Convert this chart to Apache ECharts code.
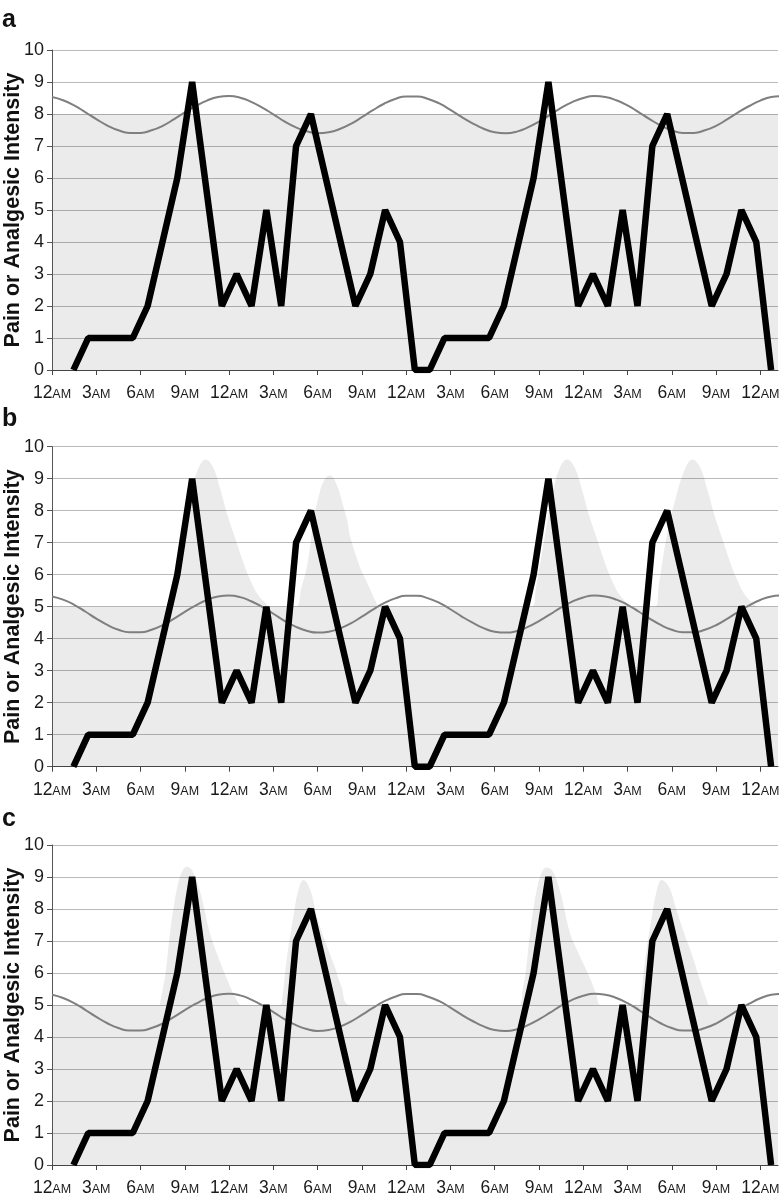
<!DOCTYPE html>
<html><head><meta charset="utf-8">
<script src="https://cdn.jsdelivr.net/npm/echarts@6/dist/echarts.min.js"></script>
<style>html,body{margin:0;padding:0;background:#fff}#c{width:780px;height:1198px}</style>
</head><body><div id="c"></div>
<script>
// ---------- data ----------
const panelLetters = ['a', 'b', 'c'];
const xTickHours = [0, 3, 6, 9, 12, 15, 18, 21, 24, 27, 30, 33, 36, 39, 42, 45, 48];
const xTickNumbers = ['12', '3', '6', '9', '12', '3', '6', '9', '12', '3', '6', '9', '12', '3', '6', '9', '12'];
const xTickSuffix = 'AM';
const yAxisTitle = 'Pain or Analgesic Intensity';

// pain ratings, one per hour
const painStartHour = 1.45;
const painStepHours = 1.006;
const painValues = [0, 1, 1, 1, 1, 2, 4, 6, 9, 5.5, 2, 3, 2, 5, 2, 7, 8, 6, 4, 2, 3, 5, 4,
                    0, 0, 1, 1, 1, 1, 2, 4, 6, 9, 5.5, 2, 3, 2, 5, 2, 7, 8, 6, 4, 2, 3, 5, 4, 0];

// analgesic level (thin grey curve), read every 0.75 h from 0 h
const analgesicStepHours = 0.75;
const analgesicA = [
  8.53, 8.43, 8.27, 8.06, 7.84, 7.64, 7.49, 7.41, 7.41, 7.49, 7.63, 7.83, 8.05, 8.25, 8.42, 8.53, 8.56,
  8.51, 8.38, 8.20, 7.99, 7.77, 7.59, 7.46, 7.40, 7.43, 7.53, 7.69, 7.90, 8.12, 8.32, 8.47, 8.55,
  8.55, 8.47, 8.33, 8.13, 7.91, 7.71, 7.54, 7.43, 7.40, 7.45, 7.58, 7.76, 7.97, 8.19, 8.37, 8.50, 8.56,
  8.53, 8.43, 8.27, 8.06, 7.84, 7.64, 7.49, 7.41, 7.41, 7.49, 7.63, 7.83, 8.05, 8.25, 8.42, 8.53, 8.56
];
const analgesicBC = [
  5.32, 5.22, 5.06, 4.85, 4.63, 4.43, 4.28, 4.20, 4.20, 4.28, 4.42, 4.62, 4.84, 5.04, 5.21, 5.32, 5.35,
  5.30, 5.17, 4.99, 4.78, 4.56, 4.38, 4.25, 4.19, 4.22, 4.32, 4.48, 4.69, 4.91, 5.11, 5.26, 5.34,
  5.34, 5.26, 5.12, 4.92, 4.70, 4.50, 4.33, 4.22, 4.19, 4.24, 4.37, 4.55, 4.76, 4.98, 5.16, 5.29, 5.35,
  5.32, 5.22, 5.06, 4.85, 4.63, 4.43, 4.28, 4.20, 4.20, 4.28, 4.42, 4.62, 4.84, 5.04, 5.21, 5.32, 5.35
];

// shaded analgesic effect
const baseLevels = [8, 5, 5];
const axisEndHour = 49.2;
const effectB = [
  [8.0, 5.0], [8.3, 5.6], [8.6, 6.4], [9.0, 7.5], [9.4, 8.5], [9.9, 9.3], [10.4, 9.6], [10.9, 9.37], [11.4, 8.68], [11.9, 7.85],
  [12.4, 7.16], [12.9, 6.47], [13.4, 5.87], [13.9, 5.41], [14.4, 5.14], [14.8, 5.0],
  [16.5, 5.0], [16.9, 5.6], [17.3, 6.3], [17.7, 7.6], [18.1, 8.5], [18.5, 9.0], [18.85, 9.1], [19.3, 8.8], [19.7, 8.2], [20.0, 7.7],
  [20.2, 7.2], [20.6, 6.6], [20.9, 6.2], [21.3, 5.8], [21.6, 5.5], [21.9, 5.2], [22.2, 5.0],
  [32.5, 5.0], [32.8, 5.6], [33.1, 6.38], [33.5, 7.48], [33.9, 8.5], [34.4, 9.32], [34.9, 9.6], [35.4, 9.37], [35.9, 8.68], [36.4, 7.85],
  [36.9, 7.16], [37.4, 6.47], [37.9, 5.87], [38.4, 5.41], [38.9, 5.14], [39.3, 5.0],
  [40.9, 5.0], [41.1, 5.6], [41.3, 6.2], [41.7, 7.3], [42.3, 8.45], [42.9, 9.3], [43.4, 9.6], [43.9, 9.37], [44.4, 8.68], [44.9, 7.85],
  [45.4, 7.16], [45.9, 6.47], [46.4, 5.87], [46.9, 5.41], [47.4, 5.14], [47.8, 5.0]
];
const effectC = [
  [7.3, 5.0], [7.5, 5.5], [7.7, 6.0], [8.0, 7.25], [8.45, 8.6], [8.8, 9.15], [9.13, 9.32], [9.5, 9.2], [10.0, 8.6], [10.7, 7.25],
  [11.1, 6.7], [11.6, 6.1], [12.1, 5.55], [12.5, 5.17], [12.8, 5.0],
  [15.45, 5.0], [15.6, 5.2], [15.9, 6.41], [16.36, 7.76], [16.7, 8.6], [17.04, 8.91], [17.5, 8.6], [17.95, 7.76], [18.5, 7.0],
  [19.07, 6.31], [19.6, 5.6], [20.2, 5.0],
  [31.7, 5.0], [31.9, 5.5], [32.1, 6.0], [32.4, 7.25], [32.85, 8.6], [33.2, 9.15], [33.5, 9.3], [33.9, 9.2], [34.4, 8.6], [35.1, 7.25],
  [35.5, 6.8], [36.0, 6.3], [36.5, 5.8], [36.9, 5.3], [37.2, 5.0],
  [39.75, 5.0], [39.9, 5.2], [40.2, 6.41], [40.65, 7.76], [41.0, 8.6], [41.3, 8.91], [41.8, 8.7], [42.3, 8.0], [42.8, 7.3],
  [43.35, 6.6], [43.9, 5.8], [44.5, 5.0]
];
const effectPeaks = [null, effectB, effectC];
const analgesicCurves = [analgesicA, analgesicBC, analgesicBC];

// ---------- chart ----------
const FONT = '"Liberation Sans", Arial, sans-serif';
const gridTops = [50, 446.7, 845];
const painData = painValues.map((v, i) => [painStartHour + i * painStepHours, v]);
const shade = '#ebebeb';

const grids = [], xAxes = [], yAxes = [], series = [], graphics = [];
panelLetters.forEach((letter, p) => {
  grids.push({ left: 52, right: 2, top: gridTops[p], height: 320, containLabel: false, outerBoundsMode: 'none' });
  xAxes.push({
    type: 'value', gridIndex: p, min: 0, max: axisEndHour, z: 3,
    axisLine: { show: true, onZero: true, lineStyle: { color: '#444', width: 1 } },
    axisTick: { show: true, length: 5, customValues: xTickHours, lineStyle: { color: '#444' } },
    splitLine: { show: false },
    axisLabel: {
      customValues: xTickHours, margin: 14, color: '#1a1a1a', fontFamily: FONT,
      formatter: (v) => {
        const i = xTickHours.indexOf(v);
        return i < 0 ? '' : '{n|' + xTickNumbers[i] + '}{s|' + xTickSuffix + '}';
      },
      rich: {
        n: { fontSize: 17.5, fontFamily: FONT, color: '#1a1a1a', verticalAlign: 'bottom' },
        s: { fontSize: 12.5, fontFamily: FONT, color: '#1a1a1a', verticalAlign: 'bottom', padding: [0, 0, 1, 0] }
      }
    }
  });
  yAxes.push({
    type: 'value', gridIndex: p, min: 0, max: 10, interval: 1, z: 3,
    name: yAxisTitle, nameLocation: 'middle', nameGap: 28, nameMoveOverlap: false,
    nameTextStyle: { fontSize: 21.5, fontWeight: 'bold', color: '#111', fontFamily: FONT },
    axisLine: { show: true, lineStyle: { color: '#555', width: 1 } },
    axisTick: { show: true, length: 5, lineStyle: { color: '#555' } },
    axisLabel: { fontSize: 18, color: '#1a1a1a', margin: 8, fontFamily: FONT },
    splitLine: { show: true, lineStyle: { color: 'rgba(0,0,0,0.27)', width: 1 } }
  });
  series.push({
    type: 'line', xAxisIndex: p, yAxisIndex: p, z: 1, silent: true, symbol: 'none',
    data: [[0, baseLevels[p]], [axisEndHour, baseLevels[p]]],
    lineStyle: { width: 0 }, areaStyle: { color: shade, opacity: 1 }
  });
  if (effectPeaks[p]) {
    series.push({
      type: 'line', xAxisIndex: p, yAxisIndex: p, z: 1, silent: true, symbol: 'none', smooth: 0.4,
      data: effectPeaks[p], lineStyle: { width: 0 }, areaStyle: { color: shade, opacity: 1 }
    });
  }
  series.push({
    type: 'line', xAxisIndex: p, yAxisIndex: p, z: 5, silent: true, symbol: 'none', smooth: 0.5,
    data: analgesicCurves[p].map((v, i) => [i * analgesicStepHours, v]),
    lineStyle: { color: '#7f7f7f', width: 2 }
  });
  series.push({
    type: 'line', xAxisIndex: p, yAxisIndex: p, z: 6, silent: true, symbol: 'none',
    data: painData, lineStyle: { color: '#000', width: 6.5, join: 'bevel', cap: 'butt' }
  });
  graphics.push({
    type: 'text', x: 2, y: [20.3, 418.7, 818.7][p],
    style: { text: letter, font: 'bold 25px ' + FONT, fill: '#111', verticalAlign: 'middle', align: 'left' }
  });
});

const chart = echarts.init(document.getElementById('c'), null, { renderer: 'canvas' });
chart.setOption({
  animation: false,
  backgroundColor: '#fff',
  grid: grids, xAxis: xAxes, yAxis: yAxes, series: series, graphic: graphics
});
</script></body></html>
